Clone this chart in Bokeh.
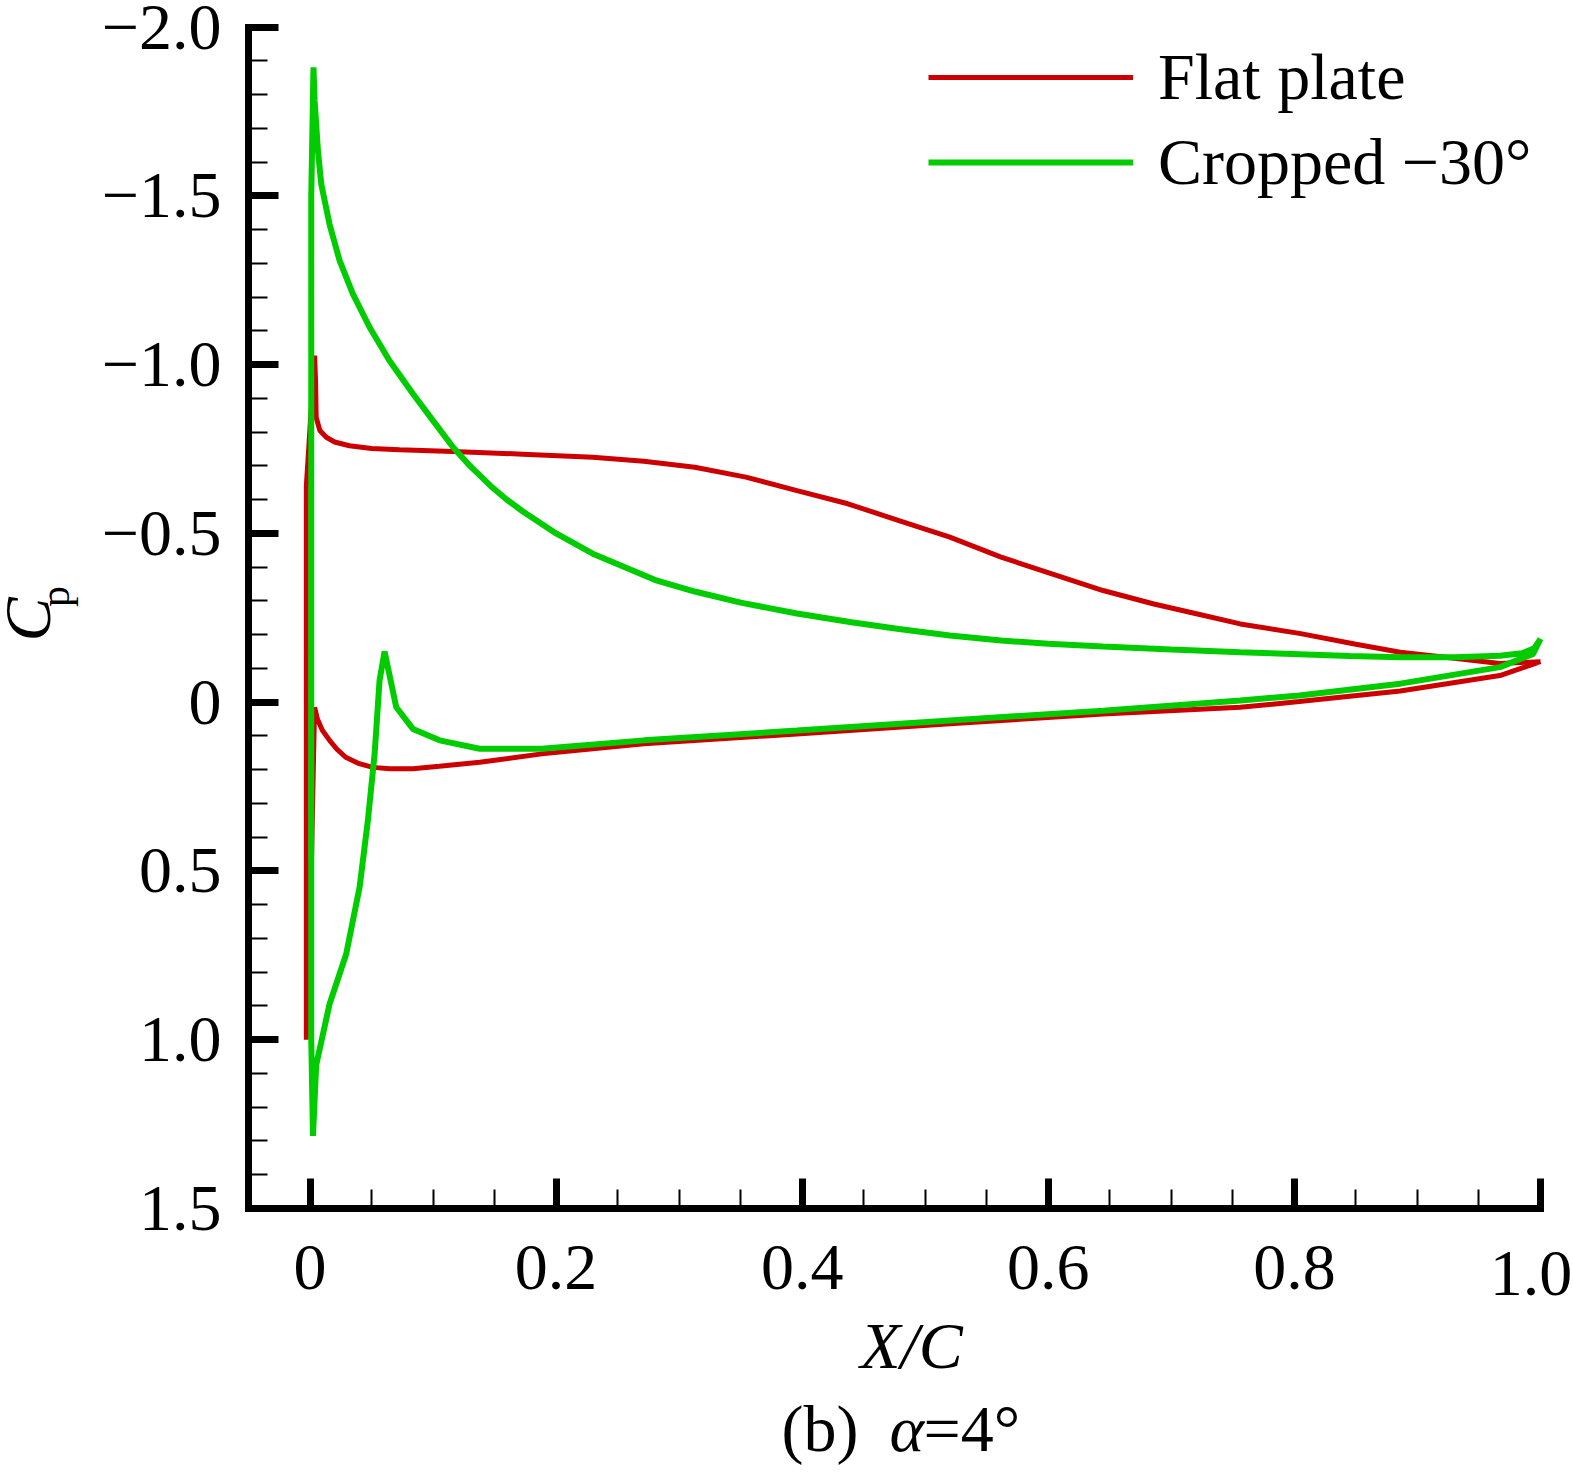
import math
from bokeh.plotting import figure
from bokeh.models import Range1d, FixedTicker, Label, Legend, LegendItem, LinearAxis
from bokeh.embed import file_html
from bokeh.resources import INLINE

# ---------------- data ----------------
# Flat plate: upper surface (TE -> LE)
flat_upper_x = [1.0, 0.967, 0.93, 0.886, 0.85, 0.804, 0.756, 0.723, 0.6858, 0.6445, 0.6029,
                0.5616, 0.52, 0.4786, 0.4371, 0.3957, 0.3542, 0.3127, 0.2713, 0.2298,
                0.173, 0.116, 0.0728, 0.05, 0.032, 0.02, 0.0132, 0.008, 0.005, 0.0045, 0.0037]
flat_upper_cp = [-0.12, -0.115, -0.13, -0.148, -0.172, -0.204, -0.232, -0.26, -0.291, -0.331, -0.38,
                 -0.43, -0.489, -0.538, -0.588, -0.627, -0.667, -0.696, -0.714, -0.726,
                 -0.735, -0.743, -0.748, -0.752, -0.76, -0.771, -0.785, -0.805, -0.844, -0.95, -1.027]
# Flat plate: leading-edge face
flat_le_x = [-0.003, -0.003, 0.001]
flat_le_cp = [-0.64, 1.0, 0.5]
# Flat plate: lower surface (LE -> TE)
flat_lower_x = [0.0037, 0.006, 0.01, 0.0159, 0.022, 0.029, 0.04, 0.051, 0.065, 0.0836, 0.105,
                0.138, 0.1883, 0.2713, 0.3957, 0.5201, 0.6445, 0.756, 0.804, 0.886, 0.967, 1.0]
flat_lower_cp = [0.015, 0.05, 0.083, 0.113, 0.14, 0.163, 0.182, 0.193, 0.197, 0.197, 0.19,
                 0.178, 0.153, 0.123, 0.094, 0.064, 0.035, 0.015, -0.002, -0.033, -0.079, -0.12]

# Cropped -30 deg: upper surface (TE -> LE)
crop_upper_x = [1.0, 0.995, 0.985, 0.967, 0.93, 0.886, 0.845, 0.804, 0.756, 0.70, 0.6445,
                0.60, 0.5616, 0.52, 0.4786, 0.44, 0.3957, 0.35, 0.3127, 0.282, 0.2298,
                0.2, 0.173, 0.16, 0.147, 0.13, 0.1161, 0.0998, 0.0836, 0.0646, 0.0484, 0.0348,
                0.024, 0.0158, 0.0091, 0.0064, 0.005, 0.0037, 0.0028]
crop_upper_cp = [-0.188, -0.16, -0.145, -0.138, -0.133, -0.133, -0.137, -0.142, -0.148, -0.156, -0.165,
                 -0.173, -0.183, -0.198, -0.217, -0.237, -0.263, -0.295, -0.328, -0.36, -0.44,
                 -0.5, -0.565, -0.6, -0.64, -0.7, -0.756, -0.835, -0.914, -1.012, -1.111, -1.21,
                 -1.309, -1.417, -1.536, -1.635, -1.714, -1.783, -1.881]
# Cropped: leading-edge face
crop_le_x = [0.001, 0.001, 0.0024]
crop_le_cp = [-1.5, 1.0, 1.285]
# Cropped: lower surface (LE -> TE)
crop_lower_x = [0.005, 0.0159, 0.0294, 0.0403, 0.047, 0.0525, 0.0565, 0.0606, 0.0701,
                0.0836, 0.1053, 0.1379, 0.1883, 0.2713, 0.3957, 0.5201, 0.6445, 0.756,
                0.804, 0.886, 0.967, 0.994, 1.0]
crop_lower_cp = [1.075, 0.894, 0.746, 0.548, 0.351, 0.153, -0.064, -0.15, 0.015,
                 0.079, 0.113, 0.138, 0.138, 0.113, 0.084, 0.054, 0.025, -0.005,
                 -0.02, -0.055, -0.104, -0.143, -0.188]

series_names = ["Flat plate", "Cropped \u221230\u00b0"]
series_colors = ["#cc0000", "#00cc00"]

x_ticks = [0, 0.2, 0.4, 0.6, 0.8, 1.0]
x_tick_labels = ["0", "0.2", "0.4", "0.6", "0.8", "1.0"]
x_minor = [0.05, 0.1, 0.15, 0.25, 0.3, 0.35, 0.45, 0.5, 0.55, 0.65, 0.7, 0.75, 0.85, 0.9, 0.95]
y_ticks = [-2.0, -1.5, -1.0, -0.5, 0, 0.5, 1.0, 1.5]
y_tick_labels = ["\u22122.0", "\u22121.5", "\u22121.0", "\u22120.5", "0", "0.5", "1.0", "1.5"]
y_minor = [round(-2.0 + 0.1 * i, 1) for i in range(36) if i % 5 != 0]

X_MIN, X_MAX = -0.05, 1.0      # axis extent
Y_TOP, Y_BOT = -2.0, 1.5       # axis extent (reversed)

# ---------------- layout (pixels) ----------------
W, H = 1572, 1478
FL, FR, FT, FB = 248.0, 1540.0, 26.7, 1208.0   # where the axes sit on the canvas
sx = (FR - FL) / (X_MAX - X_MIN)
sy = (FB - FT) / (Y_BOT - Y_TOP)
x_start = X_MIN - FL / sx
x_end = X_MIN + (W - FL) / sx
y_top = Y_TOP - FT / sy
y_bot = Y_TOP + (H - FT) / sy

def dx(px):
    return X_MIN + (px - FL) / sx

def dy(py):
    return Y_TOP + (py - FT) / sy

FONT = "Liberation Serif"
FS = "66px"
XLAB_STANDOFF = 37

p = figure(width=W, height=H, output_backend="svg", toolbar_location=None,
           title=None, x_range=Range1d(x_start, x_end), y_range=Range1d(y_bot, y_top),
           min_border=0)
p.outline_line_color = None
p.xgrid.visible = False
p.ygrid.visible = False
p.background_fill_color = "white"
p.border_fill_color = "white"

r1 = p.line(flat_upper_x + flat_le_x + flat_lower_x,
            flat_upper_cp + flat_le_cp + flat_lower_cp,
            line_color=series_colors[0], line_width=5)
r2 = p.line(crop_upper_x + crop_le_x + crop_lower_x,
            crop_upper_cp + crop_le_cp + crop_lower_cp,
            line_color=series_colors[1], line_width=6)

p.xaxis.fixed_location = Y_BOT
p.yaxis.fixed_location = X_MIN
p.xaxis.bounds = (X_MIN, X_MAX)
p.yaxis.bounds = (Y_TOP, Y_BOT)
p.xaxis.ticker = FixedTicker(ticks=x_ticks, minor_ticks=x_minor)
p.yaxis.ticker = FixedTicker(ticks=y_ticks, minor_ticks=y_minor)
# the last x label sits at the canvas edge: it is drawn slightly shifted by a helper axis
x_over = {t: s for t, s in zip(x_ticks, x_tick_labels)}
x_over[x_ticks[-1]] = ""
p.xaxis.major_label_overrides = x_over
p.yaxis.major_label_overrides = {t: s for t, s in zip(y_ticks, y_tick_labels)}

for ax in (p.xaxis[0], p.yaxis[0]):
    ax.axis_line_width = 7
    ax.axis_line_color = "black"
    ax.axis_line_cap = "square"
    ax.major_tick_line_width = 7
    ax.major_tick_line_color = "black"
    ax.major_tick_in = 30
    ax.major_tick_out = 0
    ax.minor_tick_line_width = 2
    ax.minor_tick_line_color = "black"
    ax.minor_tick_in = 19
    ax.minor_tick_out = 0
    ax.major_label_text_font = FONT
    ax.major_label_text_font_size = FS
    ax.major_label_text_color = "black"

p.yaxis.major_label_standoff = 27
p.xaxis.major_label_standoff = XLAB_STANDOFF

# helper axis carrying the "1.0" label, nudged left so it stays on the canvas
last_pos = X_MAX - 9 / sx
edge_axis = LinearAxis(fixed_location=Y_BOT,
                       ticker=FixedTicker(ticks=[last_pos], minor_ticks=[]),
                       major_label_overrides={last_pos: x_tick_labels[-1]},
                       axis_line_color=None, major_tick_line_color=None,
                       minor_tick_line_color=None, major_label_standoff=XLAB_STANDOFF,
                       major_label_text_font=FONT, major_label_text_font_size=FS,
                       major_label_text_color="black")
p.add_layout(edge_axis, "below")

# x-axis title (labels are centred on their anchor)
p.add_layout(Label(x=dx(911), y=dy(1345), text="X/C", text_align="center",
                   text_baseline="middle", text_font=FONT, text_font_size=FS,
                   text_font_style="italic", text_color="black"))

# y-axis label C_p
p.add_layout(Label(x=dx(27), y=dy(619), text="C", angle=math.pi / 2,
                   text_align="center", text_baseline="middle",
                   text_font=FONT, text_font_size=FS, text_font_style="italic",
                   text_color="black"))
p.add_layout(Label(x=dx(54), y=dy(596), text="p", angle=math.pi / 2,
                   text_align="center", text_baseline="middle",
                   text_font=FONT, text_font_size="42px", text_color="black"))

# caption "(b) alpha=4deg"
for px, txt, style in [(781, "(b)", "normal"), (889, "\u03b1", "italic"),
                       (923, "=4\u00b0", "normal")]:
    p.add_layout(Label(x=dx(px), y=dy(1428), text=txt, text_align="left",
                       text_baseline="middle", text_font=FONT, text_font_size=FS,
                       text_font_style=style, text_color="black"))

legend = Legend(items=[LegendItem(label=series_names[0], renderers=[r1]),
                       LegendItem(label=series_names[1], renderers=[r2])],
                location=(928, H - 200), orientation="vertical",
                border_line_color=None, background_fill_alpha=0,
                label_text_font=FONT, label_text_font_size=FS, label_text_color="black",
                glyph_width=205, glyph_height=74, label_height=74, label_standoff=25,
                spacing=9, padding=0, margin=0)
p.add_layout(legend)

open("out.html", "w").write(file_html(p, INLINE))
